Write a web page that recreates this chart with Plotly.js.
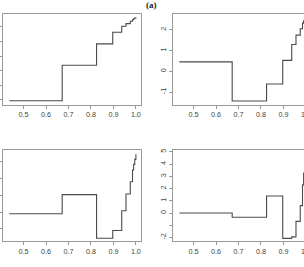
<!DOCTYPE html>
<html>
<head>
<meta charset="utf-8">
<script src="https://cdn.plot.ly/plotly-3.0.1.min.js"></script>
<style>
html,body{margin:0;padding:0;overflow:hidden;width:304px;height:267px;background:#fff;}
#chart{position:absolute;left:-40px;top:0;width:360px;height:267px;}
</style>
</head>
<body>
<div id="chart"></div>
<script>
// shared breakpoints (x)
const xSteps = [0.437, 0.672, 0.825, 0.897, 0.937, 0.956, 0.975, 0.985, 0.99, 0.995, 1.0];
// series values per panel
const yPanel1 = [-0.05, 2.38, 3.84, 4.64, 5.05, 5.23, 5.39, 5.50, 5.56, 5.62, 5.66];
const yPanel2 = [0.46, -1.43, -0.61, 0.53, 1.30, 1.75, 2.06, 2.33, 2.44, 2.52, 2.57];
const yPanel3 = [0.90, 2.04, -0.57, -0.10, 1.08, 2.08, 2.81, 3.51, 3.85, 4.15, 4.46];
const yPanel4 = [0.00, -0.35, 1.39, -2.07, -1.95, -0.68, 0.60, 2.30, 3.27, 4.20, 4.85];
// tick values / labels
const xTicks = [0.5, 0.6, 0.7, 0.8, 0.9, 1.0];
const xTickText = ["0.5", "0.6", "0.7", "0.8", "0.9", "1.0"];
const yTicks1 = [0, 1, 2, 3, 4, 5];
const yTicks2 = [-1, 0, 1, 2];
const yTicks3 = [0, 1, 2, 3, 4];
const yTicks4 = [-2, -1, 0, 1, 2, 3, 4, 5];
const yTickText4 = ["-2", "", "0", "1", "2", "3", "4", "5"];
const titleText = "(a)";

const lineColor = '#4a4a4a';
const frameColor = '#999';
const tickFont = {family: 'Liberation Sans, Arial, sans-serif', size: 7.2, color: '#444'};

function tr(y, xa, ya) {
  return {x: xSteps, y: y, type: 'scatter', mode: 'lines', line: {shape: 'hv', color: lineColor, width: 1.1},
          xaxis: xa, yaxis: ya, hoverinfo: 'skip'};
}
const data = [tr(yPanel1, 'x', 'y'), tr(yPanel2, 'x2', 'y2'), tr(yPanel3, 'x3', 'y3'), tr(yPanel4, 'x4', 'y4')];

function xax(dom, anchor) {
  return {domain: dom, anchor: anchor, range: [0.4072, 1.0228], tickvals: xTicks, ticktext: xTickText,
          ticks: 'outside', ticklen: 3, tickcolor: frameColor, showline: true, mirror: true, linecolor: frameColor,
          linewidth: 1, showgrid: false, zeroline: false, tickfont: tickFont};
}
function yax(dom, anchor, rng, tv, tt, showLabels) {
  return {domain: dom, anchor: anchor, range: rng, tickvals: tv, ticktext: tt || tv.map(String), tickangle: -90,
          showticklabels: showLabels,
          ticks: 'outside', ticklen: 3, tickcolor: frameColor, showline: true, mirror: true, linecolor: frameColor,
          linewidth: 1, showgrid: false, zeroline: false, tickfont: tickFont};
}
const W = 360, H = 267;
const dxL = [42.7 / W, 181 / W], dxR = [212.7 / W, 351 / W];
const dyT = [1 - 104.5 / H, 1 - 14 / H], dyB = [1 - 241.3 / H, 1 - 150.3 / H];

const layout = {
  width: W, height: H, margin: {l: 0, r: 0, t: 0, b: 0}, showlegend: false,
  paper_bgcolor: '#fff', plot_bgcolor: '#fff',
  xaxis: xax(dxL, 'y'), yaxis: yax(dyT, 'x', [-0.31, 5.89], yTicks1, null, false),
  xaxis2: xax(dxR, 'y2'), yaxis2: yax(dyT, 'x2', [-1.60, 2.77], yTicks2, null, true),
  xaxis3: xax(dxL, 'y3'), yaxis3: yax(dyB, 'x3', [-0.75, 4.69], yTicks3, null, false),
  xaxis4: xax(dxR, 'y4'), yaxis4: yax(dyB, 'x4', [-2.31, 5.12], yTicks4, yTickText4, true),
  annotations: [{text: '<b>' + titleText + '</b>', xref: 'paper', yref: 'paper', x: 191 / W, y: 1 - 4.5 / H,
                 xanchor: 'center', yanchor: 'middle', showarrow: false,
                 font: {family: 'Liberation Serif, Times New Roman, serif', size: 9, color: '#222'}}]
};
Plotly.newPlot('chart', data, layout, {staticPlot: true, displayModeBar: false});
</script>
</body>
</html>
